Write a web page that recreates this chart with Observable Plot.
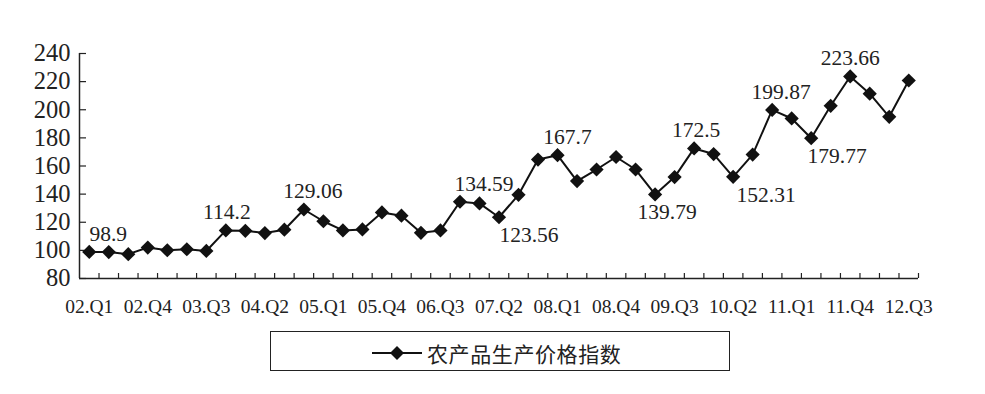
<!DOCTYPE html>
<html>
<head>
<meta charset="utf-8">
<script src="https://cdn.jsdelivr.net/npm/d3@7"></script>
<script src="https://cdn.jsdelivr.net/npm/@observablehq/plot@0.6"></script>
<style>
  html, body { margin: 0; padding: 0; background: #fff; }
  #wrap { position: relative; width: 985px; height: 394px; }
  #legend { position: absolute; left: 270px; top: 331px; width: 458px; height: 38px;
    border: 1.5px solid #222; }
  #legend svg { position: absolute; left: 100px; top: 11px; }
  #legend span { position: absolute; left: 156px; top: 6px; font-family: "Noto Sans CJK SC"; font-size: 21px; color: #222; letter-spacing: 0.6px; }
</style>
</head>
<body>
<div id="wrap">
  <div id="chart"></div>
  <div id="legend">
    <svg width="52" height="20"><line x1="1" y1="10" x2="51" y2="10" stroke="#111" stroke-width="2"/><path d="M26,3L33,10L26,17L19,10Z" fill="#111"/></svg>
    <span id="legendText"></span>
  </div>
</div>
<script>
const seriesName = "农产品生产价格指数";
const quarters = [
  "02.Q1","02.Q2","02.Q3","02.Q4","03.Q1","03.Q2","03.Q3","03.Q4",
  "04.Q1","04.Q2","04.Q3","04.Q4","05.Q1","05.Q2","05.Q3","05.Q4",
  "06.Q1","06.Q2","06.Q3","06.Q4","07.Q1","07.Q2","07.Q3","07.Q4",
  "08.Q1","08.Q2","08.Q3","08.Q4","09.Q1","09.Q2","09.Q3","09.Q4",
  "10.Q1","10.Q2","10.Q3","10.Q4","11.Q1","11.Q2","11.Q3","11.Q4",
  "12.Q1","12.Q2","12.Q3"
];
const values = [
  98.9, 98.8, 97.3, 102.0, 100.1, 100.8, 99.6,
  114.2, 113.9, 112.3, 114.7, 129.06, 120.7,
  114.2, 114.9, 127.0, 124.7, 112.5, 114.2,
  134.59, 133.4, 123.56, 139.5, 164.6, 167.7,
  149.3, 157.5, 166.4, 157.5, 139.79, 152.1,
  172.5, 168.5, 152.31, 168.1, 199.87, 193.8,
  179.77, 202.8, 223.66, 211.4, 195.0, 220.8
];
const labelledAbove = [0, 7, 11, 19, 24, 31, 35, 39];
const labelledBelow = [21, 29, 33, 37];
const yTicks = [80, 100, 120, 140, 160, 180, 200, 220, 240];
const xLabelIdx = [0, 3, 6, 9, 12, 15, 18, 21, 24, 27, 30, 33, 36, 39, 42];

// layout: horizontal nudges (px) for the value labels
const labelNudge = {0: 19, 7: 1, 11: 9, 19: 24, 24: 10, 31: 2, 35: 9, 39: 0, 21: 30, 29: 12, 33: 33, 37: 26};

document.getElementById("legendText").textContent = seriesName;

const data = quarters.map((q, i) => ({i, q, v: values[i]}));
const above = labelledAbove.map(i => data[i]);
const below = labelledBelow.map(i => data[i]);
const boundaries = d3.range(0.5, quarters.length, 1);
const serif = "Liberation Serif, Times New Roman, serif";

const labelMarks = [...above.map(d => ({d, dy: -18})), ...below.map(d => ({d, dy: 18}))].map(({d, dy}) =>
  Plot.text([d], {x: "i", y: "v", text: r => String(r.v), dy, dx: labelNudge[d.i] ?? 0, fontSize: 21.5, fill: "#222"})
);

const chart = Plot.plot({
  width: 985,
  height: 322,
  marginLeft: 79,
  marginRight: 67,
  marginTop: 53,
  marginBottom: 44,
  style: {fontFamily: serif, color: "#222", background: "#fff"},
  x: {domain: [-0.5, quarters.length - 0.5]},
  y: {domain: [80, 240]},
  marks: [
    Plot.ruleX([-0.5], {stroke: "#222", strokeWidth: 1.5}),
    Plot.ruleY([80], {stroke: "#222", strokeWidth: 1.5}),
    Plot.ruleX(boundaries, {x: d => d, y1: 80, y2: 80, insetTop: -5, stroke: "#222", strokeWidth: 1.2}),
    Plot.ruleY(yTicks, {y: d => d, x1: -0.5, x2: -0.5, insetRight: -7, stroke: "#222", strokeWidth: 1.2}),
    Plot.axisY({ticks: yTicks, tickSize: 0, tickPadding: 9, fontSize: 24.5, label: null}),
    Plot.axisX({ticks: xLabelIdx, tickSize: 0, tickPadding: 21, fontSize: 19.5, label: null, tickFormat: i => quarters[i]}),
    Plot.line(data, {x: "i", y: "v", stroke: "#111", strokeWidth: 2}),
    Plot.dot(data, {x: "i", y: "v", symbol: "diamond2", r: 6.4, fill: "#111", stroke: null}),
    ...labelMarks
  ]
});
document.getElementById("chart").appendChild(chart);
</script>
</body>
</html>
